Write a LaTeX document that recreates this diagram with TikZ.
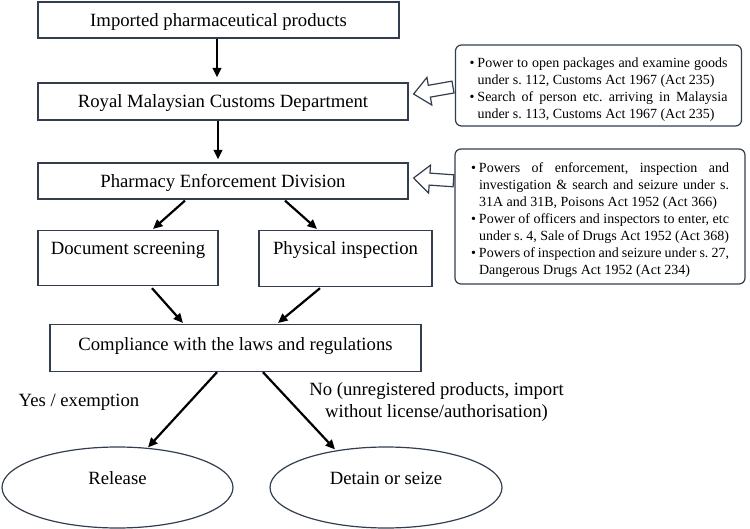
\documentclass[tikz,border=0pt]{standalone}
\usepackage{fontspec}
\setmainfont{Liberation Serif}
\usetikzlibrary{arrows.meta,calc,shapes.geometric}
\definecolor{boxline}{RGB}{50,62,78}
\frenchspacing
\newcommand{\actitem}[1]{\par\leftskip=8pt\noindent\hspace*{-8pt}\makebox[8pt][l]{\textbullet}#1\par}

\begin{document}
\begin{tikzpicture}[x=1pt,y=-1pt,
  mainbox/.style={draw=boxline, line width=1.2pt, inner sep=0pt, text height=13pt, text depth=0pt, font=\fontsize{18.7}{22}\selectfont},
  lawbox/.style={draw=boxline, line width=1.2pt, rounded corners=6pt, inner xsep=14pt, inner ysep=0pt, text width=258pt, align=justify, font=\fontsize{14}{17}\selectfont},
  outcome/.style={ellipse, draw=boxline, line width=1.2pt, inner sep=0pt, minimum width=231pt, minimum height=81pt, text height=13pt, text depth=20pt, font=\fontsize{18.7}{22}\selectfont},
  flow/.style={line width=2.2pt, -{Triangle[length=9.5pt,width=8.5pt]}},
  hollow/.style={draw=boxline, line width=1.2pt, fill=white, line join=miter}]
\useasboundingbox (0,0) rectangle (750,529);

% Main chain
\node[mainbox, minimum width=361pt, minimum height=36pt] (imported) at (218.5,20) {Imported pharmaceutical products};
\node[mainbox, minimum width=370pt, minimum height=37pt] (customs) at (223,101.5) {Royal Malaysian Customs Department};
\node[mainbox, minimum width=370pt, minimum height=36pt] (enforcement) at (223,181) {Pharmacy Enforcement Division};
\node[mainbox, anchor=north, minimum width=180pt, minimum height=55pt, text height=24pt, text depth=31pt] (docscreen) at (128,230) {Document screening};
\node[mainbox, anchor=north, minimum width=173pt, minimum height=56pt, text height=24pt, text depth=32pt] (physinsp) at (345.5,230) {Physical inspection};
\node[mainbox, anchor=north, minimum width=371pt, minimum height=47pt, text height=25.5pt, text depth=21.5pt] (compliance) at (235.5,324) {Compliance with the laws and regulations};

% Outcomes
\node[outcome] (release) at (117.5,487.5) {Release};
\node[outcome, minimum width=232pt] (detain) at (386,487.5) {Detain or seize};
\node[font=\fontsize{18.7}{22}\selectfont] (yeslabel) at (79,402) {Yes / exemption};
\node[font=\fontsize{18.7}{21.5}\selectfont, align=center] (nolabel) at (436.5,402) {No (unregistered products, import\\without license/authorisation)};

% Legal powers
\node[lawbox, minimum height=81pt] (customspowers) at (598.5,85.5) {%
  \actitem{Power to open packages and examine goods\linebreak under s. 112, Customs Act 1967 (Act 235)}%
  \actitem{Search of person etc. arriving in Malaysia\linebreak under s. 113, Customs Act 1967 (Act 235)}};
\node[lawbox, minimum width=290pt, minimum height=135pt] (pharmacypowers) at (600,216.5) {%
  \actitem{Powers of enforcement, inspection and\linebreak investigation \& search and seizure under s.\linebreak 31A and 31B, Poisons Act 1952 (Act 366)}%
  \actitem{Power of officers and inspectors to enter, etc\linebreak under s. 4, Sale of Drugs Act 1952 (Act 368)}%
  \actitem{Powers of inspection and seizure under s. 27,\linebreak Dangerous Drugs Act 1952 (Act 234)}};

% Hollow arrows
\draw[hollow, shift={($(customs.east)+(5,-7.5)$)}, rotate=10] (0,0) -- (16,-14) -- (16,-6) -- (40,-6) -- (40,6) -- (16,6) -- (16,14) -- cycle;
\draw[hollow, shift={($(enforcement.east)+(5,-3)$)}, rotate=-4] (0,0) -- (16,-14) -- (16,-6) -- (40,-6) -- (40,6) -- (16,6) -- (16,14) -- cycle;

% Flow arrows
\draw[flow, shorten >=5pt] ($(imported.south)+(-1.5,0)$) -- ($(customs.north)+(-6,0)$);
\draw[flow, shorten >=3pt] ($(customs.south)+(-5,0)$) -- ($(enforcement.north)+(-5,0)$);
\draw[flow] ($(enforcement.south)+(-38,1)$) -- ($(docscreen.north)+(25,-1)$);
\draw[flow] ($(enforcement.south)+(62,1)$) -- ($(physinsp.north)+(-28.5,-1)$);
\draw[flow] ($(docscreen.south)+(24,2)$) -- ($(compliance.north)+(-52.5,-1)$);
\draw[flow] ($(physinsp.south)+(-25.5,1)$) -- ($(compliance.north)+(42.5,-1)$);
\draw[flow] ($(compliance.south)+(-18.5,0)$) -- ($(release.north)+(30.5,1)$);
\draw[flow] ($(compliance.south)+(27.5,0)$) -- ($(detain.north)+(-51,3)$);
\end{tikzpicture}
\end{document}
